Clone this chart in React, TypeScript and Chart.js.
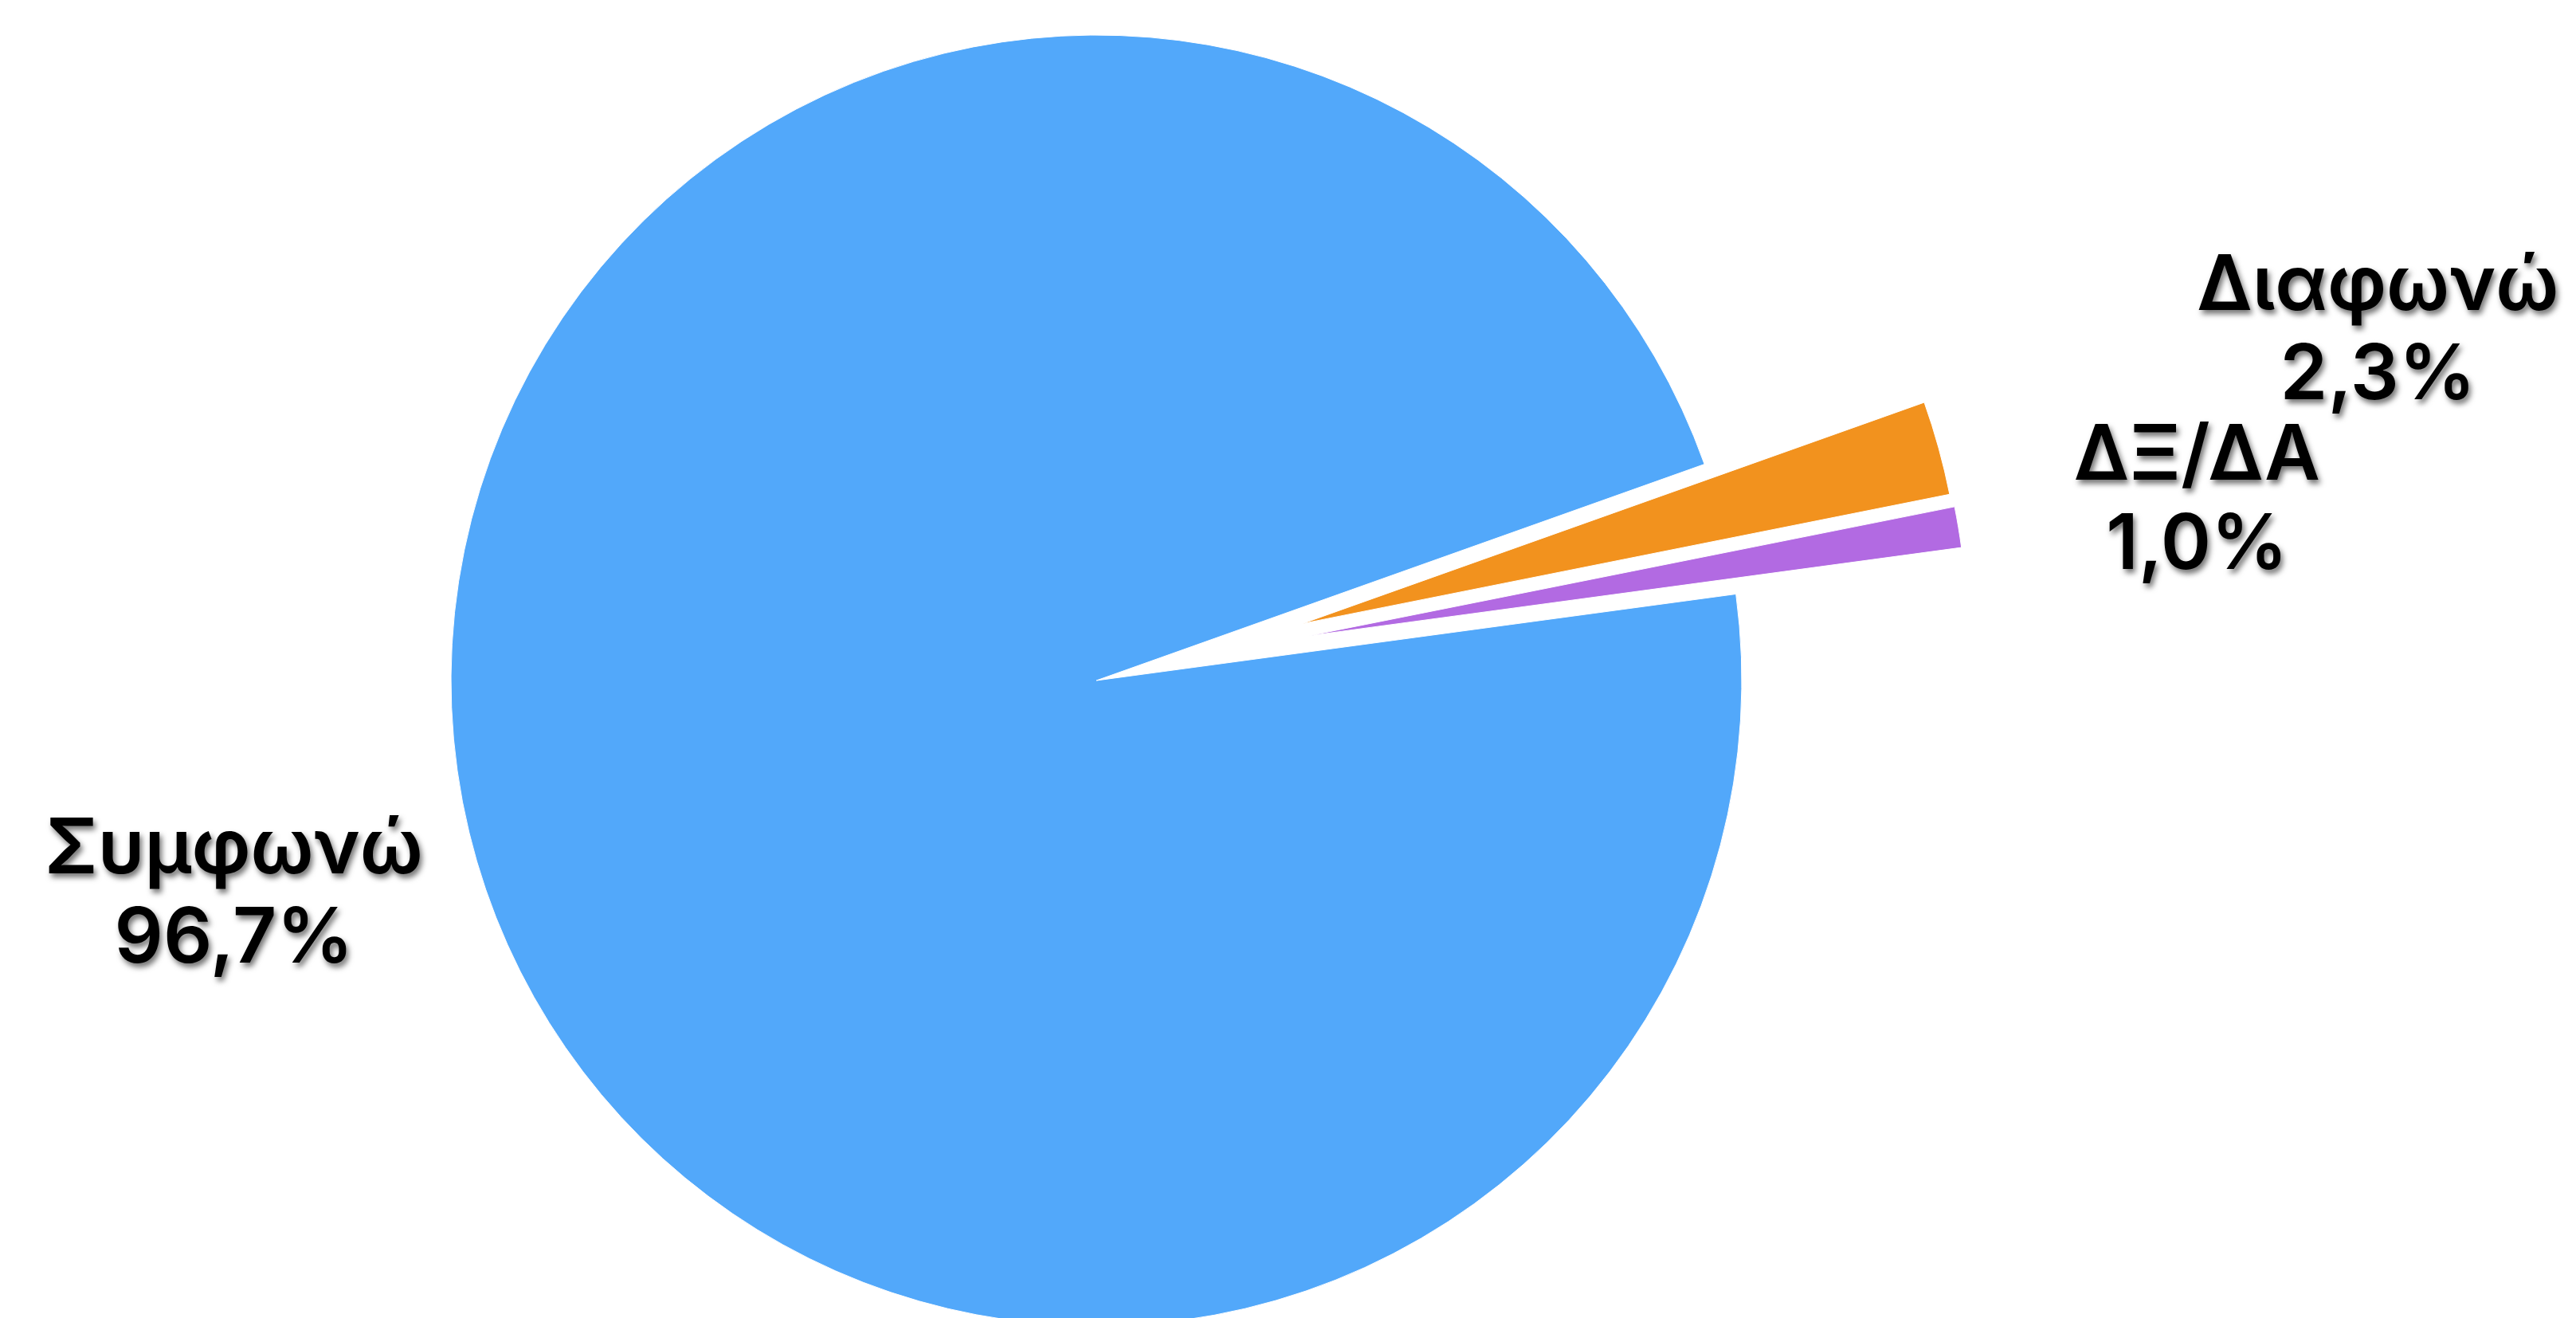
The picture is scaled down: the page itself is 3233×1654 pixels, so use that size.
import React, { useEffect, useRef } from "react";
import { Chart, registerables } from "chart.js";

Chart.register(...registerables);

// ---- data ----
const categories = ["Συμφωνώ", "Διαφωνώ", "ΔΞ/ΔΑ"];
const shares = [96.7, 2.3, 1.0];
const valueLabels = ["96,7%", "2,3%", "1,0%"];
const sliceColors = ["#52A8FA", "#F2921E", "#B26AE2"];

// ---- styling (not data) ----
const explodeDistance = [0, 268, 272];
const explodeTiltDeg = [0, 0, -2.4];
const explodeGrow = [1, 1.023, 1.021];
const labelDistance = [1.375, 2.06, 1.729];

const W = 3233;
const H = 1654;
const PIE_RADIUS = 810;
const FONT = "600 96px Inter, 'Noto Sans', sans-serif";
const LINE_GAP = 112;

const explodeAndLabels = {
  id: "explodeAndLabels",
  afterDatasetsUpdate(chart: any) {
    const meta = chart.getDatasetMeta(0);
    meta.data.forEach((arc: any, i: number) => {
      const d = explodeDistance[i];
      if (!d) return;
      const mid = (arc.startAngle + arc.endAngle) / 2 + (explodeTiltDeg[i] * Math.PI) / 180;
      arc.x += Math.cos(mid) * d;
      arc.y += Math.sin(mid) * d;
      arc.outerRadius *= explodeGrow[i];
    });
  },
  afterDraw(chart: any) {
    const meta = chart.getDatasetMeta(0);
    const ctrl: any = meta.controller;
    const ca = chart.chartArea;
    const cx = (ca.left + ca.right) / 2;
    const cy = (ca.top + ca.bottom) / 2;
    const R = ctrl.outerRadius;
    const ctx: CanvasRenderingContext2D = chart.ctx;
    ctx.save();
    ctx.font = FONT;
    ctx.textAlign = "center";
    ctx.textBaseline = "alphabetic";
    const cap = ctx.measureText("Δ").actualBoundingBoxAscent;
    ctx.fillStyle = "#000";
    ctx.shadowColor = "rgba(0,0,0,0.55)";
    ctx.shadowBlur = 7;
    ctx.shadowOffsetX = 3;
    ctx.shadowOffsetY = 5;
    meta.data.forEach((arc: any, i: number) => {
      const mid = (arc.startAngle + arc.endAngle) / 2;
      const dist = labelDistance[i] * R;
      const lx = cx + Math.cos(mid) * dist;
      const ly = cy + Math.sin(mid) * dist;
      ctx.fillText(categories[i], lx, ly - LINE_GAP / 2 + cap / 2);
      ctx.fillText(valueLabels[i], lx, ly + LINE_GAP / 2 + cap / 2);
    });
    ctx.restore();
  },
};

export default function App() {
  const ref = useRef<HTMLCanvasElement | null>(null);
  useEffect(() => {
    if (!ref.current) return;
    const chart = new Chart(ref.current, {
      type: "pie",
      data: {
        labels: categories,
        datasets: [
          {
            data: shares,
            backgroundColor: sliceColors,
            borderColor: "#ffffff",
            borderWidth: 1,
            clip: false as any,
          },
        ],
      },
      options: {
        responsive: false,
        animation: false,
        devicePixelRatio: 1,
        rotation: 82.3,
        radius: PIE_RADIUS,
        layout: { padding: { left: 0, right: 481, top: 54, bottom: 0 } },
        plugins: {
          legend: { display: false },
          tooltip: { enabled: false },
        },
        events: [],
      } as any,
      plugins: [explodeAndLabels],
    });
    return () => chart.destroy();
  }, []);
  return (
    <canvas
      ref={ref}
      width={W}
      height={H}
      style={{ position: "fixed", left: 0, top: 0, width: W, height: H, display: "block" }}
    />
  );
}
